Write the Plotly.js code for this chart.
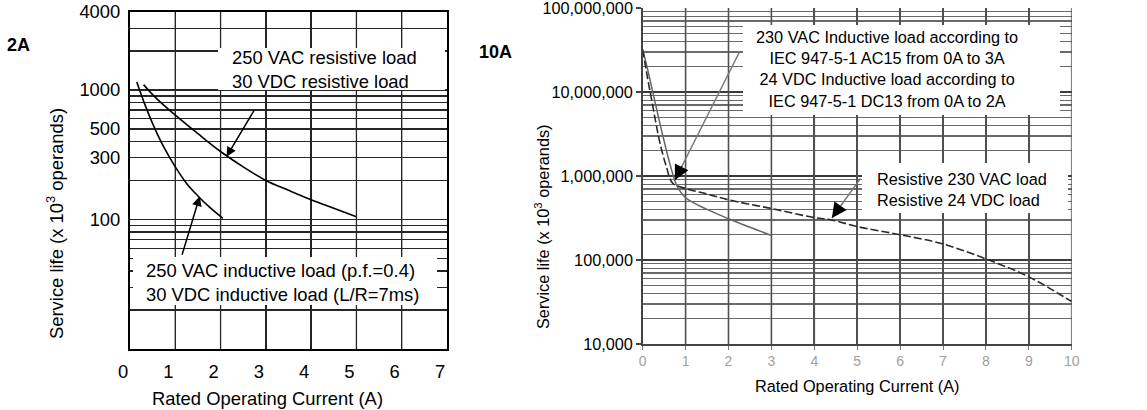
<!DOCTYPE html>
<html><head><meta charset="utf-8">
<script src="https://cdn.plot.ly/plotly-3.0.1.min.js"></script>
<style>html,body{margin:0;padding:0;background:#fff}#chart{width:1147px;height:410px}</style>
</head><body><div id="chart"></div>
<script>
// ---------------- DATA ----------------
// 2A relay (service life in x10^3 operations)
const current2A_resistive = [0.3, 0.5, 0.75, 1, 1.5, 2, 2.5, 3, 3.5, 4, 4.5, 5];
const life2A_resistive    = [1100, 920, 760, 640, 460, 335, 255, 200, 168, 142, 122, 105];
const current2A_inductive = [0.15, 0.3, 0.5, 0.75, 1, 1.25, 1.5, 1.75, 2.05];
const life2A_inductive    = [1150, 820, 550, 360, 255, 190, 152, 125, 102];

// 10A relay
const current10A_resistive = [0, 0.1, 0.2, 0.3, 0.4, 0.55, 0.7, 1, 1.5, 2, 3, 4, 4.4, 5, 6, 7, 8, 9, 10];
const life10A_resistive    = [3.2e7, 1.6e7, 8.5e6, 4.5e6, 2.5e6, 1.3e6, 8.2e5, 7.1e5, 6.1e5, 5.2e5, 4.1e5, 3.2e5, 3.0e5, 2.5e5, 2.0e5, 1.55e5, 1.03e5, 6.3e4, 3.2e4];
const current10A_inductive = [0, 0.1, 0.2, 0.35, 0.5, 0.65, 0.8, 1, 1.5, 2, 2.5, 3];
const life10A_inductive    = [3.2e7, 2.0e7, 1.2e7, 5.5e6, 2.6e6, 1.3e6, 7.6e5, 5.5e5, 4.0e5, 3.1e5, 2.45e5, 1.96e5];

// tick labels
const xTicks2A = [0, 1, 2, 3, 4, 5, 6, 7];
const yLabelVals2A = [100, 300, 500, 1000, 4000];
const yLabelText2A = ['100', '300', '500', '1000', '4000'];
const xTicks10A = [0, 1, 2, 3, 4, 5, 6, 7, 8, 9, 10];
const yLabelVals10A = [1e4, 1e5, 1e6, 1e7, 1e8];
const yLabelText10A = ['10,000', '100,000', '1,000,000', '10,000,000', '100,000,000'];

// texts
const title2A = '2A';
const title10A = '10A';
const xTitle = 'Rated Operating Current (A)';
const yTitle = 'Service life (x 10<sup>3</sup> operands)';
const note2A_res = '250 VAC resistive load<br>30 VDC resistive load';
const note2A_ind = '250 VAC inductive load (p.f.=0.4)<br>30 VDC inductive load (L/R=7ms)';
const note10A_ind = '230 VAC Inductive load according to<br>IEC 947-5-1 AC15 from 0A to 3A<br>24 VDC Inductive load according to<br>IEC 947-5-1 DC13 from 0A to 2A';
const note10A_res = 'Resistive 230 VAC load<br>Resistive 24 VDC load';

// ---------------- LAYOUT GEOMETRY ----------------
const W = 1147, H = 410;
const PL = {x0: 130, x1: 447, y0: 12, y1: 349};
const PR = {x0: 642.7, x1: 1071.7, y0: 8, y1: 344};
const yRange2A = [10, 4000];
const yRange10A = [1e4, 1e8];
const fx = px => px / W;
const fy = py => 1 - py / H;
const FONT = '"Liberation Sans", Arial, Helvetica, sans-serif';
const FS_L = 18.4, FS_R = 16.3;
// white label boxes [x0, y0, x1, y1] in pixels
const boxesL = [[218, 48, 445, 90], [133, 257, 437, 305]];
const boxesR = [[743, 25, 1060, 115], [862, 163, 1068, 213]];

// horizontal grid values
const grid2A = [];
[10, 100, 1000].forEach(d => { for (let m = 1; m <= 9; m++) { const v = m * d; if (v <= 4000) grid2A.push(v); } });
const text2A = grid2A.map(v => { const i = yLabelVals2A.indexOf(v); return i >= 0 ? yLabelText2A[i] : ''; });
const minor10A = [];
[1e4, 1e5, 1e6, 1e7].forEach(d => { for (let m = 2; m <= 9; m++) minor10A.push(m * d); });

// vertical grid lines as one segmented path per chart (built from the tick arrays)
function vGrid(ticks, lo, hi) {
  const xs = [], ys = [];
  ticks.forEach(v => { xs.push(v, v, null); ys.push(lo, hi, null); });
  return {xs, ys};
}
const vg2A = vGrid(xTicks2A.filter(v => v > 0 && v < 7), yRange2A[0], yRange2A[1]);
const vg10A = vGrid(xTicks10A.filter(v => v > 0), yRange10A[0], yRange10A[1]);

const traces = [
  {x: vg2A.xs, y: vg2A.ys, xaxis: 'x', yaxis: 'y', mode: 'lines', connectgaps: false,
   line: {color: '#262626', width: 1.3}, hoverinfo: 'skip', cliponaxis: true},
  {x: vg10A.xs, y: vg10A.ys, xaxis: 'x2', yaxis: 'y2', mode: 'lines', connectgaps: false,
   line: {color: '#505050', width: 1.6}, hoverinfo: 'skip', cliponaxis: true},
  {x: current2A_resistive, y: life2A_resistive, xaxis: 'x', yaxis: 'y', mode: 'lines',
   line: {color: '#000', width: 1.6, shape: 'spline'}, hoverinfo: 'skip'},
  {x: current2A_inductive, y: life2A_inductive, xaxis: 'x', yaxis: 'y', mode: 'lines',
   line: {color: '#000', width: 1.6, shape: 'spline'}, hoverinfo: 'skip'},
  {x: current10A_inductive, y: life10A_inductive, xaxis: 'x2', yaxis: 'y2', mode: 'lines',
   line: {color: '#666', width: 1.5, shape: 'spline'}, hoverinfo: 'skip'},
  {x: current10A_resistive, y: life10A_resistive, xaxis: 'x2', yaxis: 'y2', mode: 'lines',
   line: {color: '#2a2a2a', width: 1.6, shape: 'spline', dash: '8px,3px'}, hoverinfo: 'skip'}
];

function box(b) {
  return {type: 'rect', xref: 'paper', yref: 'paper', x0: fx(b[0]), x1: fx(b[2]), y0: fy(b[3]), y1: fy(b[1]),
          fillcolor: '#fff', line: {width: 0}, layer: 'above'};
}
function txt(text, px, py, size, opts) {
  return Object.assign({text: text, xref: 'paper', yref: 'paper', x: fx(px), y: fy(py), showarrow: false,
    font: {family: FONT, size: size, color: '#000'}, xanchor: 'left', yanchor: 'middle', align: 'left'}, opts || {});
}
function arrow(xr, yr, hx, hy, tx, ty, color, size, head) {
  return {xref: xr, yref: yr, axref: xr, ayref: yr, x: hx, y: Math.log10(hy), ax: tx, ay: Math.log10(ty),
    text: '', showarrow: true, arrowhead: head, arrowsize: size, arrowwidth: 1.5, arrowcolor: color, standoff: 0};
}

const layout = {
  width: W, height: H, margin: {l: 0, r: 0, t: 0, b: 0},
  paper_bgcolor: '#fff', plot_bgcolor: '#fff', showlegend: false,
  font: {family: FONT, color: '#000'},
  xaxis: {domain: [fx(PL.x0), fx(PL.x1)], anchor: 'y', range: [0, 7], tickmode: 'array', tickvals: xTicks2A,
    ticktext: xTicks2A.map(String), showgrid: true, gridcolor: '#262626', gridwidth: 1.3, zeroline: false,
    showline: true, mirror: true, linecolor: '#000', linewidth: 2, ticks: '', ticklabelshift: -7,
    ticklabelstandoff: 5, tickfont: {size: FS_L, color: '#000'}, fixedrange: true},
  yaxis: {domain: [fy(PL.y1), fy(PL.y0)], anchor: 'x', type: 'log', range: yRange2A.map(Math.log10),
    tickmode: 'array', tickvals: grid2A, ticktext: text2A, showgrid: true, gridcolor: '#262626', gridwidth: 1.3,
    zeroline: false, showline: true, mirror: true, linecolor: '#000', linewidth: 2, ticks: '',
    ticklabelstandoff: 4, tickfont: {size: FS_L, color: '#000'}, fixedrange: true},
  xaxis2: {domain: [fx(PR.x0), fx(PR.x1)], anchor: 'y2', range: [0, 10], tickmode: 'array', tickvals: xTicks10A,
    ticktext: xTicks10A.map(String), showgrid: true, gridcolor: '#505050', gridwidth: 1.6, zeroline: false,
    showline: true, linecolor: '#444', linewidth: 1.5, ticks: 'outside', ticklen: 4, tickcolor: '#777',
    tickfont: {size: 14, color: '#a0a0a0'}, title: {text: xTitle, font: {size: FS_R, color: '#000'}, standoff: 12},
    fixedrange: true},
  yaxis2: {domain: [fy(PR.y1), fy(PR.y0)], anchor: 'x2', type: 'log', range: yRange10A.map(Math.log10), tickmode: 'array',
    tickvals: yLabelVals10A, ticktext: yLabelText10A, showgrid: true, gridcolor: '#3a3a3a', gridwidth: 1.5,
    minor: {tickmode: 'array', tickvals: minor10A, showgrid: true, gridcolor: '#6a6a6a', gridwidth: 1.2, ticks: ''},
    zeroline: false, showline: true, linecolor: '#444', linewidth: 1.5, ticks: 'outside', ticklen: 5,
    tickcolor: '#444', tickwidth: 1.5, ticklabeloverflow: 'allow', tickfont: {size: FS_R, color: '#000'},
    fixedrange: true},
  shapes: boxesL.concat(boxesR).map(box),
  annotations: [
    txt('<b>' + title2A + '</b>', 18, 45, 18, {xanchor: 'center'}),
    txt('<b>' + title10A + '</b>', 495, 52, 18, {xanchor: 'center'}),
    txt(yTitle, 55, 224, FS_L, {xanchor: 'center', textangle: -90}),
    txt(yTitle, 542, 227, FS_R, {xanchor: 'center', textangle: -90}),
    txt(xTitle, 267, 398, FS_L, {xanchor: 'center'}),
    txt(note2A_res, 230, 69, FS_L),
    txt(note2A_ind, 144, 282.5, FS_L),
    txt(note10A_ind, 887, 69, FS_R, {xanchor: 'center', align: 'center'}),
    txt(note10A_res, 875, 189, FS_R),
    arrow('x', 'y', 2.13, 305, 2.76, 716, '#000', 1.3, 2),
    arrow('x', 'y', 1.54, 151, 1.14, 52, '#000', 1.3, 2),
    arrow('x2', 'y2', 0.75, 8.9e5, 2.27, 3.1e7, '#777', 1, 0),
    arrow('x2', 'y2', 0.75, 8.9e5, 0.93, 1.36e6, '#000', 2, 2),
    arrow('x2', 'y2', 4.41, 3.16e5, 5.1, 9.7e5, '#777', 1, 0),
    arrow('x2', 'y2', 4.41, 3.16e5, 4.58, 4.2e5, '#000', 2, 2)
  ]
};

Plotly.newPlot('chart', traces, layout, {displayModeBar: false, staticPlot: true});
</script>
</body></html>
